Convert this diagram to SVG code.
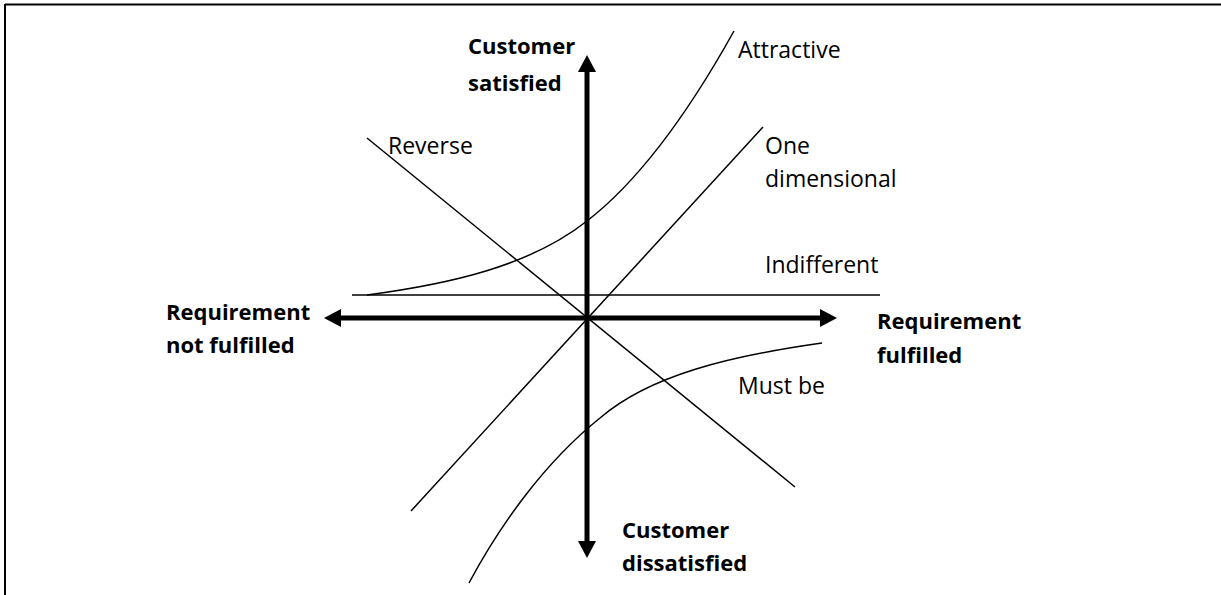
<svg xmlns="http://www.w3.org/2000/svg" width="1221" height="595" viewBox="0 0 1221 595">
<defs>
<style>
.lbl{font-family:"Open Sans","Noto Sans","Liberation Sans",sans-serif;font-size:23px;fill:#000}
.bold{font-weight:bold;font-size:22px}
.thin{fill:none;stroke:#000;stroke-width:1.5}
.axis{fill:none;stroke:#000;stroke-width:5}
.frame{fill:none;stroke:#000;stroke-width:2}
</style>
<marker id="ah" markerUnits="userSpaceOnUse" viewBox="0 0 17 18" refX="0" refY="9" markerWidth="17" markerHeight="18" orient="auto-start-reverse">
<path d="M0,0 L17,9 L0,18 z" fill="#000"/>
</marker>
</defs>
<rect width="1221" height="595" fill="#fff"/>
<g id="frame">
<line class="frame" x1="5" y1="4.5" x2="1221" y2="4.5"/>
<line class="frame" x1="5" y1="4" x2="5" y2="595"/>
</g>
<g id="connectors">
<line id="indifferent-line" class="thin" x1="352" y1="295" x2="880" y2="295"/>
<line id="reverse-line" class="thin" x1="367" y1="138" x2="795" y2="487"/>
<line id="onedim-line" class="thin" x1="763" y1="127" x2="411" y2="511"/>
<path id="attractive-curve" class="thin" d="M367,295 C450,284 530,266 587,221 C640,180 690,110 734,31"/>
<path id="mustbe-curve" class="thin" d="M822,343 C730,356 650,375 600,418 C545,462 500,525 469,583"/>
<line id="y-axis" class="axis" x1="587" y1="541" x2="587" y2="72" marker-start="url(#ah)" marker-end="url(#ah)"/>
<line id="x-axis" class="axis" x1="341" y1="318" x2="820" y2="318" marker-start="url(#ah)" marker-end="url(#ah)"/>
</g>
<g id="node-satisfied">
<text class="lbl bold" x="468" y="54">Customer</text>
<text class="lbl bold" x="468" y="91">satisfied</text>
</g>
<g id="node-dissatisfied">
<text class="lbl bold" x="622" y="538">Customer</text>
<text class="lbl bold" x="622" y="571">dissatisfied</text>
</g>
<g id="node-notfulfilled">
<text class="lbl bold" x="166" y="320">Requirement</text>
<text class="lbl bold" x="166" y="353">not fulfilled</text>
</g>
<g id="node-fulfilled">
<text class="lbl bold" x="877" y="329">Requirement</text>
<text class="lbl bold" x="877" y="363">fulfilled</text>
</g>
<g id="node-attractive">
<text class="lbl" x="738" y="58">Attractive</text>
</g>
<g id="node-reverse">
<text class="lbl" x="388" y="154">Reverse</text>
</g>
<g id="node-onedim">
<text class="lbl" x="765" y="154">One</text>
<text class="lbl" x="765" y="187">dimensional</text>
</g>
<g id="node-indifferent">
<text class="lbl" x="765" y="273">Indifferent</text>
</g>
<g id="node-mustbe">
<text class="lbl" x="738" y="394">Must be</text>
</g>
</svg>
